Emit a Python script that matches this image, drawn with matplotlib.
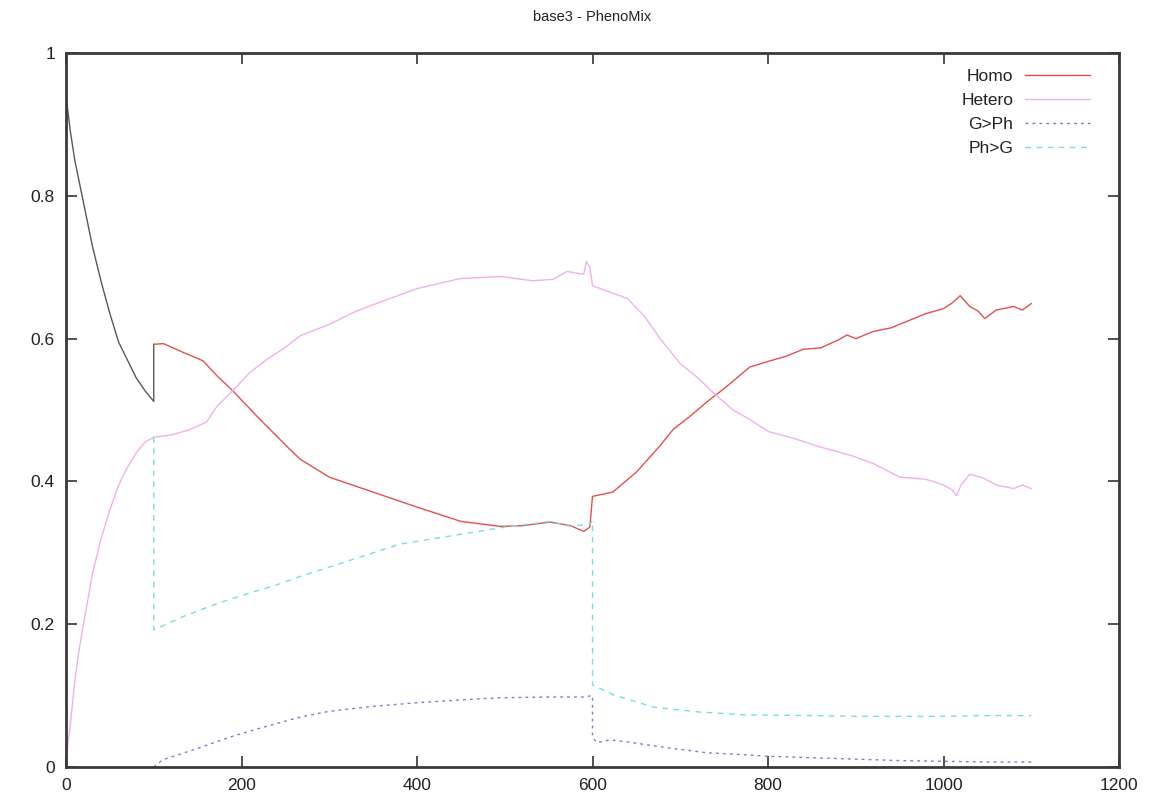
import matplotlib
matplotlib.use("Agg")
import matplotlib.pyplot as plt

plt.rcParams['font.family'] = ['Liberation Sans', 'DejaVu Sans']

# Early phase (before the mix starts)
pre_t = [0, 5, 10, 15, 20, 30, 40, 50, 60, 70, 80, 90, 100, 100]
pre_v = [0.94, 0.89, 0.85, 0.82, 0.79, 0.73, 0.68, 0.635, 0.595, 0.57, 0.545, 0.527, 0.512, 0.592]

homo_t = [100, 111, 133, 156, 172, 190, 217, 255, 267, 300, 350, 400, 450, 495, 520, 552,
          575, 590, 597, 600, 623, 650, 677, 692, 710, 730, 750, 779, 800, 820, 840, 860,
          880, 890, 900, 920, 940, 960, 980, 1000, 1010, 1019, 1030, 1040, 1047, 1060,
          1080, 1090, 1100]
homo_v = [0.592, 0.593, 0.581, 0.569, 0.548, 0.527, 0.492, 0.445, 0.431, 0.406, 0.385, 0.364,
          0.344, 0.337, 0.338, 0.343, 0.338, 0.330, 0.336, 0.379, 0.385, 0.413, 0.450, 0.473,
          0.490, 0.511, 0.530, 0.560, 0.568, 0.575, 0.585, 0.587, 0.598, 0.605, 0.600, 0.610,
          0.615, 0.625, 0.635, 0.642, 0.650, 0.660, 0.645, 0.638, 0.628, 0.640, 0.645, 0.640,
          0.649]

hetero_t = [0, 2, 5, 10, 15, 20, 30, 40, 50, 60, 70, 80, 90, 100, 120, 140, 160, 172, 190,
            210, 230, 248, 267, 300, 330, 360, 400, 449, 495, 532, 555, 571, 590, 593, 597,
            600, 620, 640, 660, 677, 700, 720, 737, 760, 779, 800, 830, 860, 893, 920, 950,
            980, 1000, 1010, 1015, 1020, 1030, 1045, 1060, 1080, 1090, 1100]
hetero_v = [0.0, 0.03, 0.06, 0.12, 0.165, 0.20, 0.27, 0.32, 0.36, 0.395, 0.42, 0.44, 0.455,
            0.462, 0.465, 0.472, 0.483, 0.505, 0.527, 0.553, 0.572, 0.586, 0.604, 0.620,
            0.638, 0.652, 0.670, 0.684, 0.687, 0.681, 0.683, 0.694, 0.690, 0.708, 0.700,
            0.674, 0.665, 0.656, 0.630, 0.600, 0.565, 0.545, 0.525, 0.500, 0.487, 0.470,
            0.460, 0.448, 0.437, 0.425, 0.406, 0.403, 0.395, 0.388, 0.380, 0.395, 0.410,
            0.405, 0.395, 0.390, 0.395, 0.390]

gph_t = [100, 110, 130, 150, 187, 220, 267, 300, 350, 400, 450, 495, 550, 590, 600, 600,
         605, 620, 646, 685, 730, 776, 800, 850, 900, 950, 1000, 1050, 1100]
gph_v = [0.0, 0.010, 0.018, 0.026, 0.042, 0.054, 0.070, 0.078, 0.085, 0.090, 0.094, 0.097,
         0.098, 0.098, 0.100, 0.042, 0.034, 0.038, 0.034, 0.027, 0.020, 0.017, 0.015, 0.013,
         0.011, 0.009, 0.008, 0.007, 0.007]

phg_t = [100, 100, 134, 170, 210, 240, 267, 300, 340, 380, 420, 450, 500, 552, 575, 597,
         600, 600, 624, 669, 722, 776, 850, 900, 1000, 1050, 1100]
phg_v = [0.462, 0.192, 0.211, 0.228, 0.244, 0.255, 0.267, 0.280, 0.296, 0.312, 0.320, 0.326,
         0.336, 0.344, 0.337, 0.340, 0.345, 0.115, 0.101, 0.084, 0.077, 0.073, 0.072, 0.071,
         0.071, 0.072, 0.072]

x_ticks = [0, 200, 400, 600, 800, 1000, 1200]
y_ticks = [0, 0.2, 0.4, 0.6, 0.8, 1]
y_labels = ['0', '0.2', '0.4', '0.6', '0.8', '1']

fig = plt.figure(figsize=(11.66, 8.05), dpi=100)
ax = fig.add_axes([66 / 1166, 38 / 805, (1119 - 66) / 1166, (767 - 53) / 805])

ax.plot(pre_t, pre_v, color='#585858', lw=1.0)
ax.plot(homo_t, homo_v, color='#e4504c', lw=1.0, label='Homo')
ax.plot(hetero_t, hetero_v, color='#f0b0ee', lw=1.0, label='Hetero')
ax.plot(gph_t, gph_v, color='#7a7ad4', lw=1.0, dashes=(2, 3), label='G>Ph')
ax.plot(phg_t, phg_v, color='#6ce2e2', lw=1.0, dashes=(4, 4), label='Ph>G')

ax.set_xlim(0, 1200)
ax.set_ylim(0, 1)
ax.set_xticks(x_ticks)
ax.set_xticklabels([str(v) for v in x_ticks])
ax.set_yticks(y_ticks)
ax.set_yticklabels(y_labels)
ax.tick_params(direction='in', length=8, width=1.2, color='#333333', labelcolor='#222222',
               top=True, right=True, labelsize=12.5, pad=8)
for s in ax.spines.values():
    s.set_linewidth(2.0)
    s.set_color('#3a3a3a')

ax.set_title('base3 - PhenoMix', fontsize=10.5, pad=23, color='#222222')

leg = ax.legend(loc='upper right', markerfirst=False, frameon=False, fontsize=12.5,
                handlelength=3.7, handletextpad=0.7, labelspacing=0.5,
                borderaxespad=0.5, bbox_to_anchor=(0.987, 0.999))
for t in leg.get_texts():
    t.set_color('#222222')

fig.savefig('out.png', dpi=100)
